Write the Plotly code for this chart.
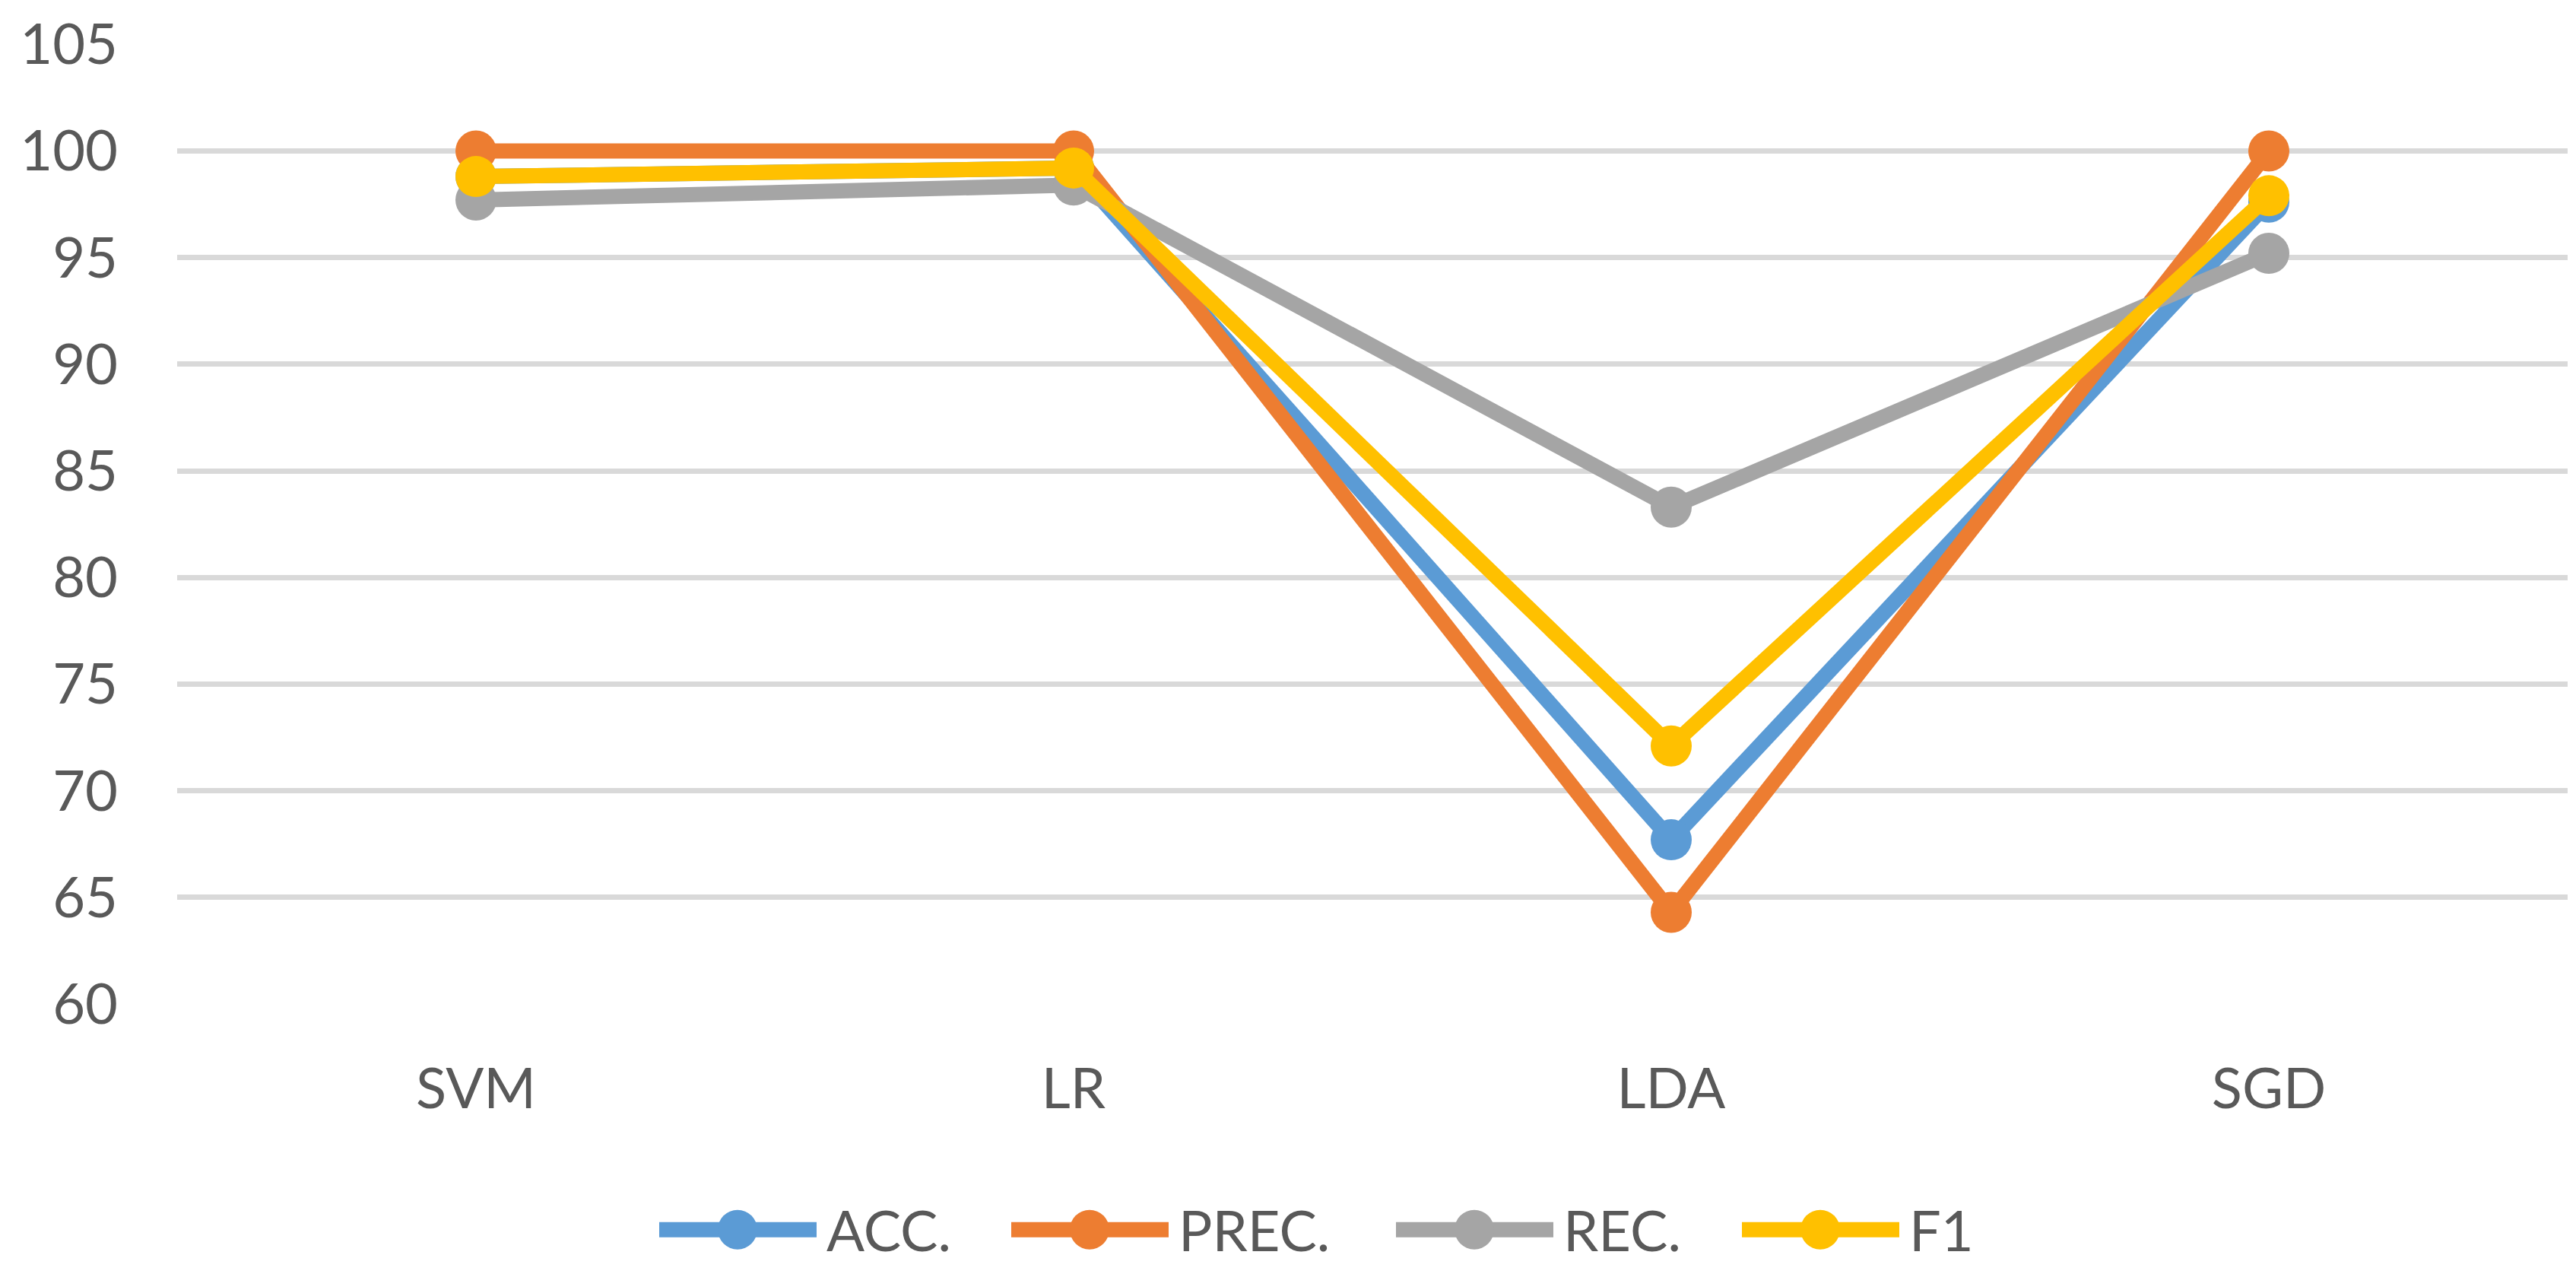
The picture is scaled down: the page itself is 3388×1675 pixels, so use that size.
import plotly.graph_objects as go

categories = ["SVM", "LR", "LDA", "SGD"]
acc = [98.8, 99.2, 67.7, 97.6]
prec = [100.0, 100.0, 64.3, 100.0]
rec = [97.7, 98.4, 83.3, 95.2]
f1 = [98.8, 99.2, 72.1, 97.9]
series_names = ["ACC.", "PREC.", "REC.", "F1"]
series_values = [acc, prec, rec, f1]
colors = ["#5B9BD5", "#ED7D31", "#A5A5A5", "#FFC000"]
y_ticks = [60, 65, 70, 75, 80, 85, 90, 95, 100, 105]

# page offset from the default body margin (8px); keep the page within the window
OFF = 8
W, H = 3372, 1659
L, R, T = 225, 3, 40
B = H - (1320 - OFF)
FONT = "Lato"
TXT = "#595959"

fig = go.Figure()
for name, vals, col in zip(series_names, series_values, colors):
    fig.add_trace(go.Scatter(
        x=categories, y=vals, name=name, mode="lines+markers",
        line=dict(color=col, width=20),
        marker=dict(color=col, size=54),
        showlegend=False,
    ))

# custom legend (large symbols like the original); positions in page pixels
pw, ph = W - L - R, H - T - B
def px2x(p):
    return (p - OFF - L) / pw
def py2y(p):
    return (H - B - (p - OFF)) / ph

leg_line_start = [867, 1330, 1836, 2291]
leg_y = 1619
shapes = []
annotations = []
for name, col, xs in zip(series_names, colors, leg_line_start):
    shapes.append(dict(type="line", xref="paper", yref="paper",
                       x0=px2x(xs), x1=px2x(xs + 207), y0=py2y(leg_y), y1=py2y(leg_y),
                       line=dict(color=col, width=20)))
    shapes.append(dict(type="circle", xref="paper", yref="paper",
                       xsizemode="pixel", ysizemode="pixel",
                       xanchor=px2x(xs + 103), yanchor=py2y(leg_y),
                       x0=-26, x1=26, y0=-26, y1=26,
                       fillcolor=col, line=dict(width=0)))
    annotations.append(dict(text=name, xref="paper", yref="paper",
                            x=px2x(xs + 219), y=py2y(leg_y), xanchor="left", yanchor="middle",
                            showarrow=False, borderpad=0,
                            font=dict(family=FONT, size=74, color=TXT)))

fig.update_layout(
    width=W, height=H,
    margin=dict(l=L, r=R, t=T, b=B),
    paper_bgcolor="white", plot_bgcolor="white",
    font=dict(family=FONT, size=74, color=TXT),
    shapes=shapes, annotations=annotations,
    showlegend=False,
)
fig.update_xaxes(
    type="category", range=[-0.5, 3.5], showgrid=False, showline=False, zeroline=False,
    ticks="", ticklabelstandoff=62, tickfont=dict(family=FONT, size=74, color=TXT),
)
fig.update_yaxes(
    range=[60, 105.01], tickvals=y_ticks, showgrid=True, gridcolor="#D9D9D9", gridwidth=7,
    showline=False, zeroline=False, ticks="", ticklabelstandoff=77, ticklabeloverflow="allow",
    tickfont=dict(family=FONT, size=74, color=TXT),
)

fig.write_html("out.html")
